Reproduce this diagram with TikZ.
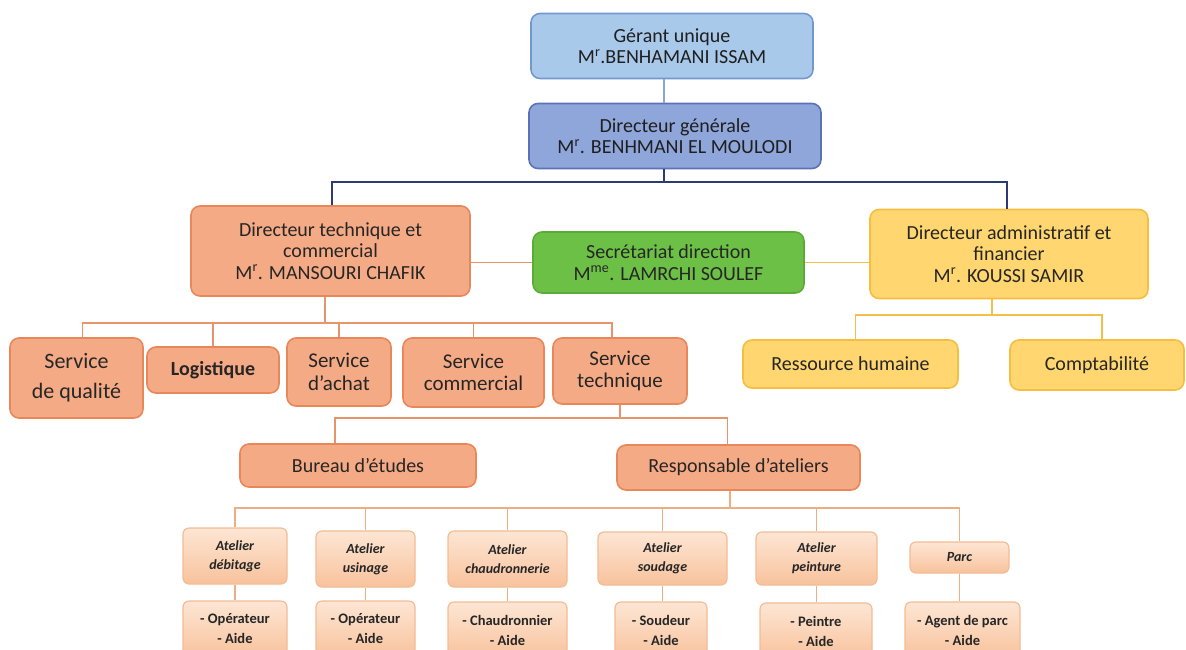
\documentclass[tikz,border=0pt]{standalone}
\usepackage{fontspec}
\setmainfont{Carlito}

\definecolor{gerfill}{HTML}{A9C9EB}
\definecolor{gerdraw}{HTML}{7398CF}
\definecolor{dgfill}{HTML}{8FA6DB}
\definecolor{dgdraw}{HTML}{5B72B6}
\definecolor{orfill}{HTML}{F5AA86}
\definecolor{ordraw}{HTML}{E8875A}
\definecolor{secfill}{HTML}{6DC046}
\definecolor{secdraw}{HTML}{5CAB38}
\definecolor{jafill}{HTML}{FFD66F}
\definecolor{jadraw}{HTML}{F5BE40}
\definecolor{atelhaut}{HTML}{FDE6D4}
\definecolor{atelbas}{HTML}{F8C29C}
\definecolor{ateldraw}{HTML}{F2BC95}
\definecolor{navy}{HTML}{2E3B72}
\definecolor{bleuclair}{HTML}{8AA4D4}
\definecolor{traitor}{HTML}{E8946A}
\definecolor{traitja}{HTML}{F2C04A}
\definecolor{traitatel}{HTML}{EFAE82}
\definecolor{txtdark}{HTML}{262626}

\begin{document}
\begin{tikzpicture}[
    x=1pt, y=-1pt,
    every node/.style={align=center, inner sep=2pt, text=txtdark},
    boite/.style={draw, rounded corners=9pt, line width=1.6pt, font=\fontsize{20}{21.5}\selectfont},
    bleu/.style={boite, fill=gerfill, draw=gerdraw, text=black!88},
    bleufonce/.style={boite, fill=dgfill, draw=dgdraw, text=black!88},
    orange/.style={boite, fill=orfill, draw=ordraw},
    vert/.style={boite, fill=secfill, draw=secdraw},
    jaune/.style={boite, fill=jafill, draw=jadraw},
    atelier/.style={boite, rounded corners=6pt, line width=1.2pt, draw=ateldraw,
        top color=atelhaut, bottom color=atelbas, font=\fontsize{14}{19}\selectfont\bfseries\itshape},
    poste/.style={atelier, font=\fontsize{14.5}{20}\selectfont\bfseries},
    lien/.style={line width=1.7pt},
    lienbleu/.style={lien, draw=bleuclair},
    liennavy/.style={lien, draw=navy},
    lienor/.style={lien, draw=traitor},
    lienja/.style={lien, draw=traitja},
    lienatel/.style={lien, line width=1.4pt, draw=traitatel}
]
    \useasboundingbox (0,0) rectangle (1186,649);
    \clip (0,0) rectangle (1186,649);

    % Direction
    \node[bleu, minimum width=282pt, minimum height=65pt] (ger) at (672,46)
        {Gérant unique\\M\textsuperscript{r}.BENHAMANI ISSAM};
    \node[bleufonce, minimum width=292pt, minimum height=65pt] (dg) at (675,136)
        {Directeur générale\\M\textsuperscript{r}. BENHMANI EL MOULODI};

    \node[orange, minimum width=279pt, minimum height=90pt] (dtc) at (330.5,251)
        {Directeur technique et\\commercial\\M\textsuperscript{r}. MANSOURI CHAFIK};
    \node[vert, minimum width=271pt, minimum height=61pt] (sec) at (668.5,262.5)
        {Secrétariat direction\\M\textsuperscript{me}. LAMRCHI SOULEF};
    \node[jaune, minimum width=278pt, minimum height=89pt] (daf) at (1009,254)
        {Directeur administratif et\\financier\\M\textsuperscript{r}. KOUSSI SAMIR};

    % Services
    \node[orange, minimum width=133pt, minimum height=80pt, font=\fontsize{22}{30}\selectfont] (sq) at (76.5,378)
        {Service\\de qualité};
    \node[orange, minimum width=132pt, minimum height=46pt, font=\fontsize{20}{21}\selectfont\bfseries] (log) at (213,370)
        {Logistique};
    \node[orange, minimum width=104pt, minimum height=68pt, font=\fontsize{21}{22.5}\selectfont] (sa) at (339,372)
        {Service\\d’achat};
    \node[orange, minimum width=141pt, minimum height=69pt, font=\fontsize{21}{22.5}\selectfont] (sc) at (473.5,372.5)
        {Service\\commercial};
    \node[orange, minimum width=134pt, minimum height=66pt, font=\fontsize{21}{22.5}\selectfont] (st) at (620,371)
        {Service\\technique};

    \node[jaune, minimum width=215pt, minimum height=48pt] (rh) at (850.5,364) {Ressource humaine};
    \node[jaune, minimum width=174pt, minimum height=50pt] (cpt) at (1097,365) {Comptabilité};

    \node[orange, minimum width=236pt, minimum height=43pt] (bur) at (358,465.5) {Bureau d’études};
    \node[orange, minimum width=243pt, minimum height=45pt] (resp) at (738.5,467.5) {Responsable d’ateliers};

    % Ateliers
    \node[atelier, minimum width=104pt, minimum height=56pt] (adeb) at (235,556) {Atelier\\débitage};
    \node[atelier, minimum width=99pt,  minimum height=56pt] (ausi) at (365.5,559) {Atelier\\usinage};
    \node[atelier, minimum width=119pt, minimum height=56pt] (acha) at (507.5,559) {Atelier\\chaudronnerie};
    \node[atelier, minimum width=129pt, minimum height=53pt] (asou) at (662.5,558.5) {Atelier\\soudage};
    \node[atelier, minimum width=121pt, minimum height=53pt] (apei) at (816.5,558.5) {Atelier\\peinture};
    \node[atelier, minimum width=99pt,  minimum height=31pt] (parc) at (959.5,557.5) {Parc};

    \node[poste, minimum width=104pt, minimum height=56pt] (odeb) at (235,629) {- Opérateur\\- Aide};
    \node[poste, minimum width=99pt,  minimum height=56pt] (ousi) at (365.5,629) {- Opérateur\\- Aide};
    \node[poste, minimum width=119pt, minimum height=56pt] (ocha) at (507.5,630) {- Chaudronnier\\- Aide};
    \node[poste, minimum width=92pt,  minimum height=56pt] (osou) at (661,630) {- Soudeur\\- Aide};
    \node[poste, minimum width=112pt, minimum height=56pt] (opei) at (816,631) {- Peintre\\- Aide};
    \node[poste, minimum width=115pt, minimum height=56pt] (oparc) at (962.5,630) {- Agent de parc\\- Aide};

    % Liaisons
    \coordinate (busdg) at (664,182);
    \draw[lienbleu] (ger.south -| busdg) -- (dg.north -| busdg);
    \draw[liennavy] (dg.south -| busdg) -- (busdg);
    \draw[liennavy] ([xshift=1.5pt]dtc.north) |- (busdg) -| ([xshift=-2pt]daf.north);

    \draw[lienor] (dtc.east |- sec.west) -- (sec.west);
    \draw[lienja] (sec.east) -- (daf.west |- sec.east);

    \coordinate (busdaf) at (992,315);
    \draw[lienja] ([xshift=-17pt]daf.south) -- (busdaf);
    \draw[lienja] ([xshift=5pt]rh.north) |- (busdaf) -| ([xshift=5pt]cpt.north);

    \coordinate (busdtc) at (325,323);
    \draw[lienor] ([xshift=-5.5pt]dtc.south) -- (busdtc);
    \draw[lienor] ([xshift=6pt]sq.north) |- (busdtc) -| ([xshift=-8pt]st.north);
    \foreach \n in {log,sa,sc}
        \draw[lienor] (\n.north) -- (\n.north |- busdtc);

    \coordinate (busst) at (620,418);
    \draw[lienor] (st.south) -- (busst);
    \draw[lienor] ([xshift=-23pt]bur.north) |- (busst) -| ([xshift=-11pt]resp.north);

    \coordinate (busresp) at (730,508);
    \draw[lienatel] ([xshift=-8.5pt]resp.south) -- (busresp);
    \draw[lienatel] (adeb.north) |- (busresp) -| (parc.north);
    \foreach \n in {ausi,acha,asou,apei}
        \draw[lienatel] (\n.north) -- (\n.north |- busresp);
    \foreach \a/\b in {adeb/odeb,ausi/ousi,acha/ocha,asou/osou,apei/opei,parc/oparc}
        \draw[lienatel] (\a.south) -- (\a.south |- \b.north);
\end{tikzpicture}
\end{document}
